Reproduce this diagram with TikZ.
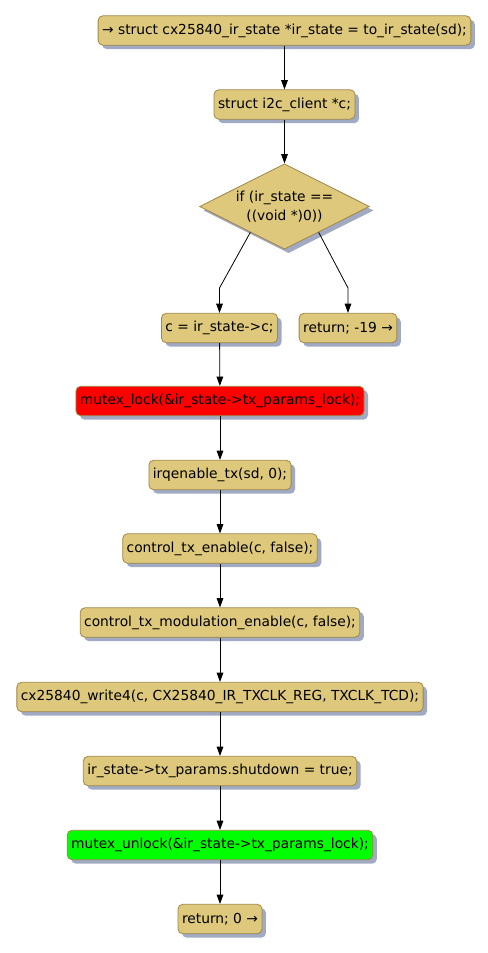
\documentclass[tikz,border=0pt]{standalone}
\usepackage{fontspec}
\setmainfont{DejaVu Sans}
\usetikzlibrary{shapes.geometric,shadows,arrows.meta,calc}
\definecolor{boxfill}{RGB}{221,200,124}
\definecolor{boxline}{RGB}{160,135,70}
\definecolor{shadowc}{RGB}{160,170,195}
\definecolor{redfill}{RGB}{255,0,0}
\definecolor{greenfill}{RGB}{0,255,0}
\begin{document}
\begin{tikzpicture}[x=0.75pt,y=-0.75pt,
  every node/.style={font=\fontsize{10.35}{14}\selectfont},
  act/.style={draw=boxline, fill=boxfill, rounded corners=3.5pt, minimum height=22pt,
    inner xsep=3pt, inner ysep=0pt, line width=0.6pt,
    drop shadow={shadow xshift=3pt, shadow yshift=-3pt, fill=shadowc, opacity=1}},
  dec/.style={diamond, aspect=2, draw=boxline, fill=boxfill, line width=0.6pt, inner sep=0pt,
    minimum width=127.5pt, minimum height=64pt, align=center,
    drop shadow={shadow xshift=3pt, shadow yshift=-3pt, fill=shadowc, opacity=1}},
  arr/.style={-{Triangle[length=7pt,width=5pt]}, line width=0.6pt, black}
]
\useasboundingbox (0,0) rectangle (487,953);
\node[act] (n1) at (284.5,30.5) {→ struct cx25840\_ir\_state *ir\_state = to\_ir\_state(sd);};
\node[act] (n2) at (284.5,104.5) {struct i2c\_client *c;};
\node[dec] (d) at (284.5,206.5) {if (ir\_state ==\\((void *)0))};
\node[act] (n3) at (219.5,328) {c = ir\_state->c;};
\node[act] (n4) at (348,328) {return; -19 →};
\node[act, fill=redfill] (n5) at (220,401) {mutex\_lock(\&ir\_state->tx\_params\_lock);};
\node[act] (n6) at (220,475) {irqenable\_tx(sd, 0);};
\node[act] (n7) at (220,548.5) {control\_tx\_enable(c, false);};
\node[act] (n8) at (220,622.5) {control\_tx\_modulation\_enable(c, false);};
\node[act] (n9) at (220,697) {cx25840\_write4(c, CX25840\_IR\_TXCLK\_REG, TXCLK\_TCD);};
\node[act] (n10) at (220,771) {ir\_state->tx\_params.shutdown = true;};
\node[act, fill=greenfill] (n11) at (220,845) {mutex\_unlock(\&ir\_state->tx\_params\_lock);};
\node[act] (n12) at (220,919) {return; 0 →};
\coordinate (bendy) at (0,288);
\draw[arr] (n1) -- (n2);
\draw[arr] (n2) -- (d);
\draw[arr] ($(d.west)!0.6!(d.south)$) -- (n3.north |- bendy) -- (n3.north);
\draw[arr] ($(d.east)!0.6!(d.south)$) -- (n4.north |- bendy) -- (n4.north);
\draw[arr] (n3) -- (n5);
\draw[arr] (n5) -- (n6);
\draw[arr] (n6) -- (n7);
\draw[arr] (n7) -- (n8);
\draw[arr] (n8) -- (n9);
\draw[arr] (n9) -- (n10);
\draw[arr] (n10) -- (n11);
\draw[arr] (n11) -- (n12);
\end{tikzpicture}
\end{document}
